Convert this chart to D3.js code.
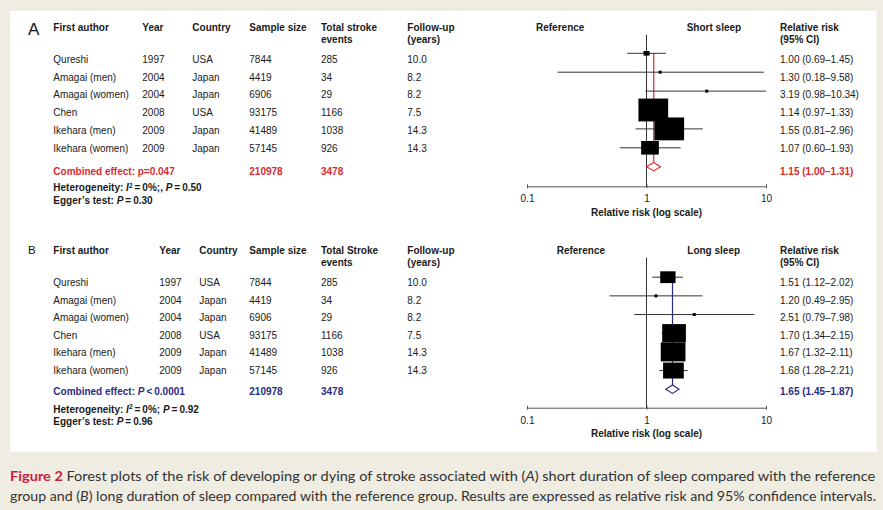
<!DOCTYPE html>
<html><head><meta charset="utf-8">
<script src="https://cdn.jsdelivr.net/npm/d3@7"></script>
<style>
body{margin:0;background:#efece2;}
svg{display:block;font-family:"Liberation Sans",Arial,Helvetica,sans-serif;}
</style>
</head><body>
<svg id="c" width="883" height="510"></svg>
<script>
// ---------- DATA ----------
const studies      = ["Qureshi","Amagai (men)","Amagai (women)","Chen","Ikehara (men)","Ikehara (women)"];
const years        = ["1997","2004","2004","2008","2009","2009"];
const countries    = ["USA","Japan","Japan","USA","Japan","Japan"];
const sampleSizes  = ["7844","4419","6906","93175","41489","57145"];
const strokeEvents = ["285","34","29","1166","1038","926"];
const followUp     = ["10.0","8.2","8.2","7.5","14.3","14.3"];
const totalSample  = "210978";
const totalEvents  = "3478";

// Panel A: short sleep vs reference
const shortRR     = [1.00, 1.30, 3.19, 1.14, 1.55, 1.07];
const shortLo     = [0.69, 0.18, 0.98, 0.97, 0.81, 0.60];
const shortHi     = [1.45, 9.58, 10.34, 1.33, 2.96, 1.93];
const shortWeight = [1.7, 0.4, 0.4, 41.7, 41.7, 14.8];
const shortCombined = [1.15, 1.00, 1.31];

// Panel B: long sleep vs reference
const longRR     = [1.51, 1.20, 2.51, 1.70, 1.67, 1.68];
const longLo     = [1.12, 0.49, 0.79, 1.34, 1.32, 1.28];
const longHi     = [2.02, 2.95, 7.98, 2.15, 2.11, 2.21];
const longWeight = [11.1, 0.4, 0.4, 26.5, 28.8, 20.3];
const longCombined = [1.65, 1.45, 1.87];

const axisTicks = [0.1, 1, 10];

// ---------- DRAW ----------
const svg = d3.select("#c");
svg.append("rect").attr("width",883).attr("height",510).attr("fill","#efece2");
svg.append("rect").attr("x",10).attr("y",11).attr("width",866.7).attr("height",440.7).attr("fill","#ffffff");

const x = d3.scaleLog().domain([0.1,10]).range([527,766]).clamp(true);
const wScale = d3.scaleSqrt().domain([0,100]).range([0,46]);
const fmt2 = d3.format(".2f");
const TXT = "#1a1a1a";

function rich(g, x0, y0, parts, opts){
  const t = g.append("text").attr("x",x0).attr("y",y0)
    .attr("font-size",opts.size||10).attr("font-weight",opts.weight||"normal")
    .attr("fill",opts.fill||TXT);
  let shifted = 0;
  parts.forEach(p=>{
    const s = t.append("tspan").text(p.t);
    if(p.i) s.attr("font-style","italic");
    const want = p.sup ? -3.5 : 0;
    if(want!==shifted){ s.attr("dy", want-shifted); shifted = want; }
    if(p.sup) s.attr("font-size",6.5);
  });
  return t;
}

const TS = "\u2009";
const panels = [
  { letter:"A", letterSize:17, letterY:34.7, hdrY:30.7, yearX:142.3, countryX:192.3,
    eventsHdr:"Total stroke", rr:shortRR, lo:shortLo, hi:shortHi, w:shortWeight, comb:shortCombined,
    color:"#d92b30", rightLabel:"Short sleep", refX:536, rightX:686.7,
    rowTop:53.3, rowStep:18.9, textTop:62.7, textStep:17.8, combY:175, hetY:191.3, eggY:203.7, axisY:186.3,
    effect:[{t:"Combined effect: p=0.047"}],
    het:[{t:"Heterogeneity: "},{t:"I",i:true},{t:"2",sup:true},{t:TS+"="+TS+"0%;, "},{t:"P",i:true},{t:TS+"="+TS+"0.50"}],
    egg:[{t:"Egger\u2019s test: "},{t:"P",i:true},{t:TS+"="+TS+"0.30"}] },
  { letter:"B", letterSize:11.5, letterY:254, hdrY:253.6, yearX:159.3, countryX:199.3,
    eventsHdr:"Total Stroke", rr:longRR, lo:longLo, hi:longHi, w:longWeight, comb:longCombined,
    color:"#2c2b86", rightLabel:"Long sleep", refX:556.7, rightX:687.3,
    rowTop:277.2, rowStep:18.67, textTop:286, textStep:17.6, combY:395, hetY:412.7, eggY:425, axisY:407.7,
    effect:[{t:"Combined effect: "},{t:"P",i:true},{t:TS+"<"+TS+"0.0001"}],
    het:[{t:"Heterogeneity: "},{t:"I",i:true},{t:"2",sup:true},{t:TS+"="+TS+"0%; "},{t:"P",i:true},{t:TS+"="+TS+"0.92"}],
    egg:[{t:"Egger\u2019s test: "},{t:"P",i:true},{t:TS+"="+TS+"0.96"}] }
];

panels.forEach(p=>{
  const g = svg.append("g");
  const rows = d3.range(studies.length);
  const yM = d3.scalePoint().domain(d3.range(7)).range([p.rowTop, p.rowTop+6*p.rowStep]);
  const yT = d3.scalePoint().domain(rows).range([p.textTop, p.textTop+5*p.textStep]);

  // panel letter
  g.append("text").attr("x",28).attr("y",p.letterY).attr("font-size",p.letterSize).attr("fill","#111").text(p.letter);

  // headers
  const hdr = [
    [53.3, ["First author"]], [p.yearX, ["Year"]], [p.countryX, ["Country"]],
    [249.3, ["Sample size"]], [321, [p.eventsHdr,"events"]], [407.3, ["Follow-up","(years)"]],
    [p.refX, ["Reference"]], [p.rightX, [p.rightLabel]], [780, ["Relative risk","(95% CI)"]]
  ];
  hdr.forEach(([hx, lines])=>{
    lines.forEach((l,k)=>{
      g.append("text").attr("x",hx).attr("y",p.hdrY+k*12).attr("font-size",10)
        .attr("font-weight","bold").attr("fill",TXT).text(l);
    });
  });

  // table columns
  const cols = [[53.3,studies],[p.yearX,years],[p.countryX,countries],[249.3,sampleSizes],[321,strokeEvents],[407.3,followUp]];
  cols.forEach(([cx, vals])=>{
    g.selectAll(null).data(rows).join("text")
      .attr("x",cx).attr("y",i=>yT(i)).attr("font-size",10).attr("fill",TXT).text(i=>vals[i]);
  });
  // RR text
  g.selectAll(null).data(rows).join("text")
    .attr("x",780).attr("y",i=>yT(i)).attr("font-size",10).attr("fill",TXT)
    .text(i=>`${fmt2(p.rr[i])} (${fmt2(p.lo[i])}\u2013${fmt2(p.hi[i])})`);

  // combined row texts
  rich(g, 53.3, p.combY, p.effect, {weight:"bold", fill:p.color});
  g.append("text").attr("x",249.3).attr("y",p.combY).attr("font-size",10).attr("font-weight","bold").attr("fill",p.color).text(totalSample);
  g.append("text").attr("x",321).attr("y",p.combY).attr("font-size",10).attr("font-weight","bold").attr("fill",p.color).text(totalEvents);
  g.append("text").attr("x",780).attr("y",p.combY).attr("font-size",10).attr("font-weight","bold").attr("fill",p.color)
    .text(`${fmt2(p.comb[0])} (${fmt2(p.comb[1])}\u2013${fmt2(p.comb[2])})`);
  rich(g, 53.3, p.hetY, p.het, {weight:"bold"});
  rich(g, 53.3, p.eggY, p.egg, {weight:"bold"});

  // axis
  const ax = d3.axisBottom(x).tickValues(axisTicks).tickFormat(d3.format("~g")).tickSizeInner(2).tickSizeOuter(0);
  const ag = g.append("g").attr("transform",`translate(0,${p.axisY})`).call(ax);
  ag.select(".domain").attr("stroke","#555").attr("stroke-width",1);
  ag.selectAll(".tick line").attr("y1",-2).attr("y2",2).attr("stroke","#555");
  ag.selectAll(".tick text").attr("y",16).attr("dy",0).attr("font-size",10)
    .attr("font-family","Liberation Sans, Arial, sans-serif").attr("fill",TXT);
  g.append("text").attr("x",x(1)).attr("y",p.axisY+29.7).attr("text-anchor","middle")
    .attr("font-size",10).attr("font-weight","bold").attr("fill",TXT).text("Relative risk (log scale)");

  // reference line
  g.append("line").attr("x1",x(1)).attr("x2",x(1)).attr("y1",p.hdrY+4).attr("y2",p.axisY)
    .attr("stroke","#333").attr("stroke-width",1);

  // combined estimate line
  g.append("line").attr("x1",x(p.comb[0])).attr("x2",x(p.comb[0]))
    .attr("y1",yM(0)).attr("y2",yM(6)-4.2).attr("stroke",p.color).attr("stroke-width",1.2);

  // CI lines
  g.selectAll(null).data(rows).join("line")
    .attr("x1",i=>x(p.lo[i])).attr("x2",i=>x(p.hi[i]))
    .attr("y1",i=>yM(i)).attr("y2",i=>yM(i)).attr("stroke","#333").attr("stroke-width",1);

  // boxes
  g.selectAll(null).data(rows).join("rect")
    .each(function(i){
      const w = Math.max(3, wScale(p.w[i]));
      const h = Math.max(3, w/1.3);
      d3.select(this).attr("x",x(p.rr[i])-w/2).attr("y",yM(i)-h/2).attr("width",w).attr("height",h);
    })
    .attr("fill","#000");

  // diamond
  const dy = yM(6);
  g.append("polygon")
    .attr("points",[[x(p.comb[1]),dy],[x(p.comb[0]),dy-4.2],[x(p.comb[2]),dy],[x(p.comb[0]),dy+4.2]].map(q=>q.join(",")).join(" "))
    .attr("fill","#fff").attr("stroke",p.color).attr("stroke-width",1.1);
});

// caption
const cap1 = svg.append("text").attr("x",10).attr("y",480.7).attr("font-family","Lato, 'Open Sans', sans-serif")
  .attr("font-size",14).attr("fill","#333").attr("textLength",865.3).attr("lengthAdjust","spacingAndGlyphs");
cap1.append("tspan").attr("font-weight","bold").attr("fill","#cc1d3c").text("Figure 2 ");
cap1.append("tspan").text("Forest plots of the risk of developing or dying of stroke associated with (");
cap1.append("tspan").attr("font-style","italic").text("A");
cap1.append("tspan").text(") short duration of sleep compared with the reference");
const cap2 = svg.append("text").attr("x",10).attr("y",501).attr("font-family","Lato, 'Open Sans', sans-serif")
  .attr("font-size",14).attr("fill","#333").attr("textLength",866).attr("lengthAdjust","spacingAndGlyphs");
cap2.append("tspan").text("group and (");
cap2.append("tspan").attr("font-style","italic").text("B");
cap2.append("tspan").text(") long duration of sleep compared with the reference group. Results are expressed as relative risk and 95% confidence intervals.");
</script>
</body></html>
